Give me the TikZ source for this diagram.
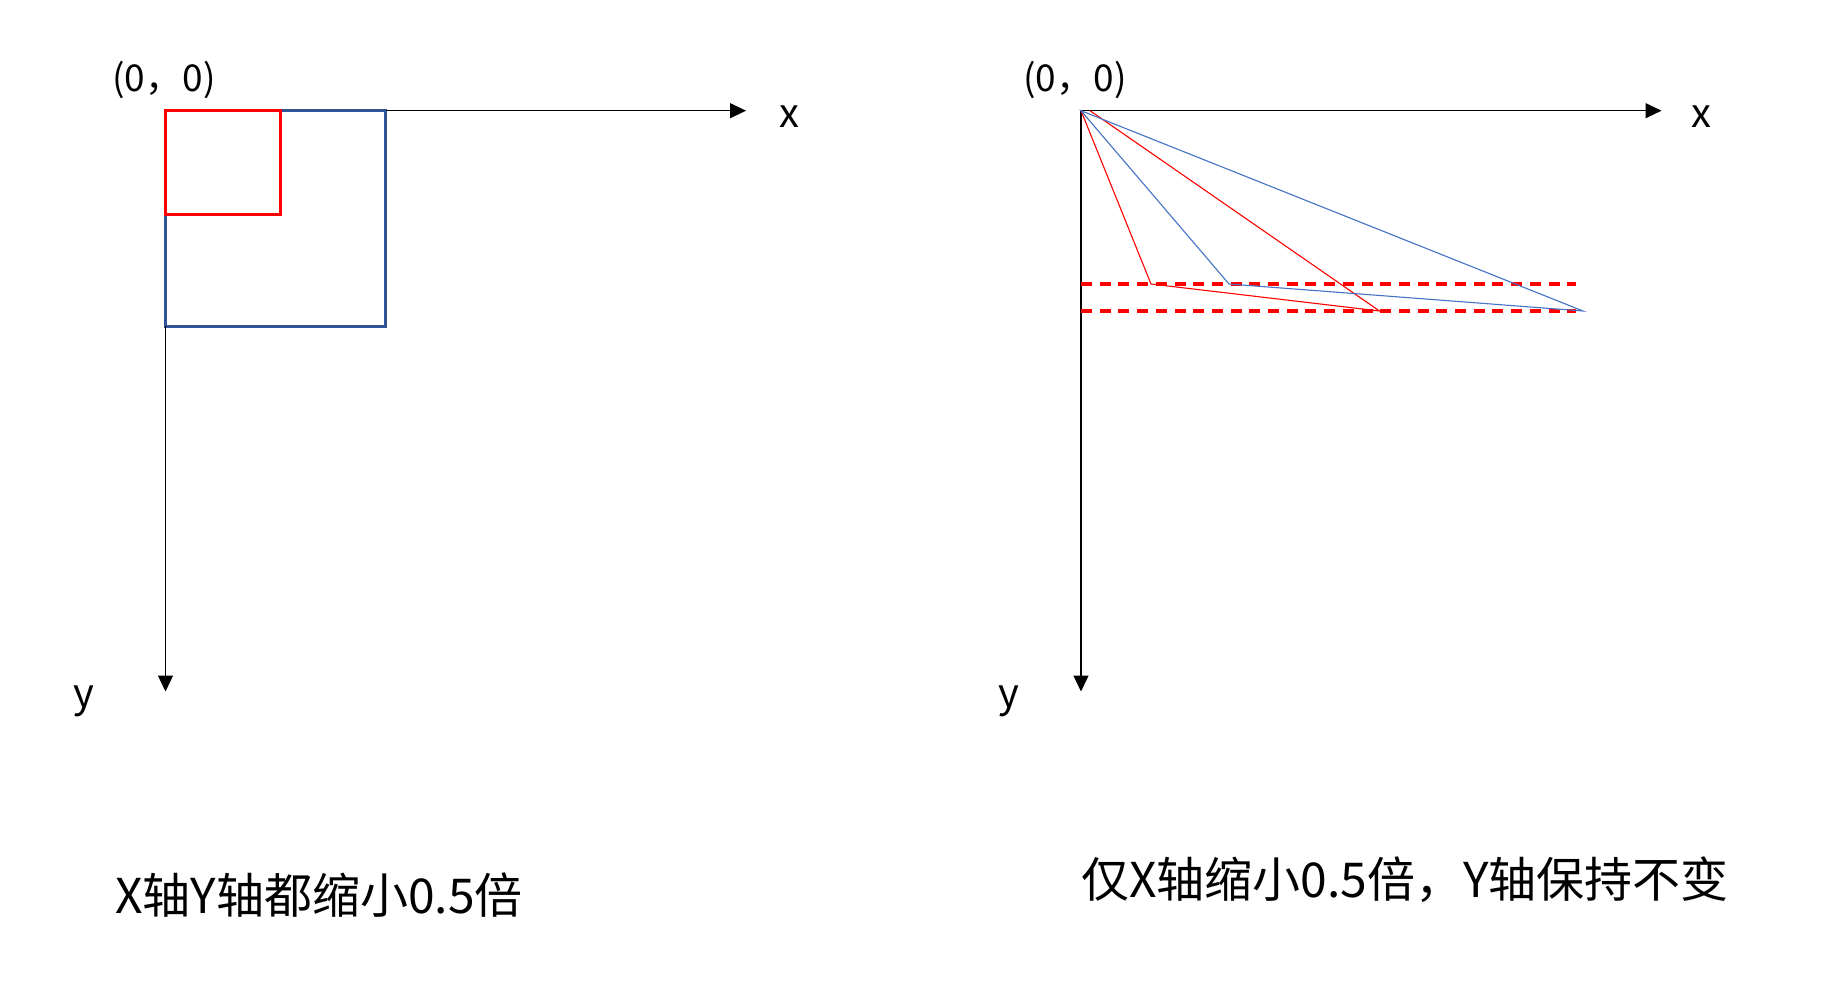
\documentclass[tikz,border=0pt]{standalone}
\usepackage{fontspec}
\setmainfont{Noto Sans CJK SC}
\usetikzlibrary{arrows.meta}
\definecolor{boxblue}{RGB}{47,85,151}
\definecolor{lineblue}{RGB}{68,114,196}
\tikzset{
  axis/.style={line width=1.3pt, -{Triangle[length=16pt,width=15pt]}},
  bigbox/.style={draw=boxblue, line width=2.7pt},
  smallbox/.style={draw=red, line width=2.7pt},
  thinred/.style={draw=red, line width=1.1pt},
  thinblue/.style={draw=lineblue, line width=1.1pt},
  guide/.style={draw=red, line width=3.2pt, dash pattern=on 11pt off 7.7pt},
  lbl/.style={inner sep=0pt, font=\fontsize{40}{44}\selectfont},
  orig/.style={inner sep=0pt, font=\fontsize{37}{40}\selectfont},
  caption/.style={inner sep=0pt, anchor=west, font=\fontsize{48}{52}\selectfont}
}
\begin{document}
\begin{tikzpicture}[x=1pt,y=-1pt]
\useasboundingbox[fill=white] (0,0) rectangle (1827,990);

% ---------- left panel ----------
\coordinate (LO) at (165.5,110.7);
\coordinate (LX) at (746,110.7);
\coordinate (LY) at (165.5,691.5);
\draw[bigbox] (LO) rectangle (385.7,326.2);
\draw[smallbox] (LO) rectangle (280.5,214.3);
\draw[axis] (385.7,110.7) coordinate (LXs) -- (LX);
\draw[axis] (165.5,326.2) coordinate (LYs) -- (LY);
\node[orig] (Lorig) at (164,80) {(0，0)};
\node[lbl] (Lx) at (789,117) {x};
\node[lbl] (Ly) at (84,701) {y};
\node[caption] (Lcap) at (115,895) {X轴Y轴都缩小0.5倍};

% ---------- right panel ----------
\coordinate (RO) at (1081,110.7);
\coordinate (RX) at (1661.5,110.7);
\coordinate (RY) at (1081,691.5);
\draw[axis] (RO) -- (RX);
\draw[axis] (RO) -- (RY);
\node[orig] (Rorig) at (1075,80) {(0，0)};
\node[lbl] (Rx) at (1701,117) {x};
\node[lbl] (Ry) at (1009,701) {y};
\node[caption] (Rcap) at (1081,880) {仅X轴缩小0.5倍，Y轴保持不变};

\coordinate (D1a) at (1081,284);
\coordinate (D1b) at (1576,284);
\coordinate (D2a) at (1081,311);
\coordinate (D2b) at (1576,311);
\draw[guide] (D1a) -- (D1b);
\draw[guide] (D2a) -- (D2b);

\coordinate (RS) at (1090,110.7);
\coordinate (R1) at (1151,284);
\coordinate (R2) at (1379.5,311);
\coordinate (B1) at (1229,284);
\coordinate (B2) at (1583,311);
\draw[thinred] (RO) -- (R1) -- (R2) -- (RS);
\draw[thinblue] (RO) -- (B1) -- (B2) -- cycle;
\end{tikzpicture}
\end{document}
